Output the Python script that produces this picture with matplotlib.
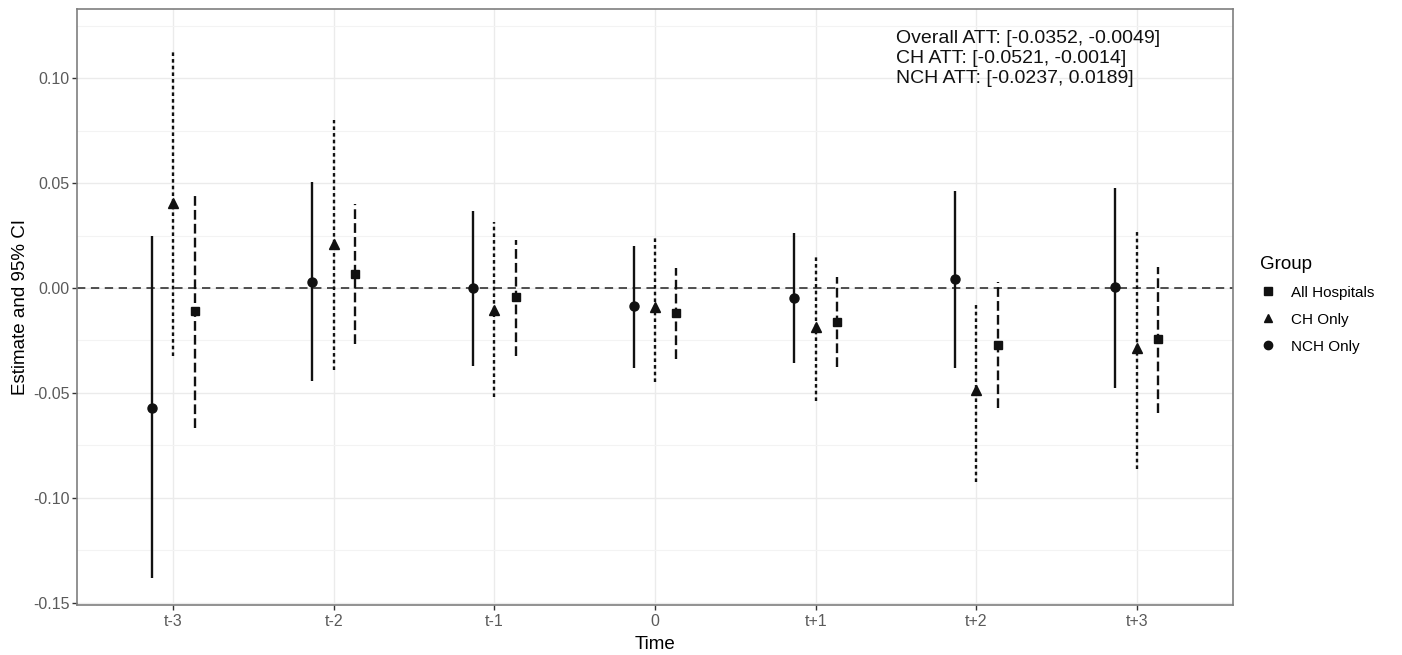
import matplotlib
matplotlib.use('Agg')
import matplotlib.pyplot as plt
from matplotlib.lines import Line2D
import numpy as np

plt.rcParams['font.family'] = ['Liberation Sans', 'DejaVu Sans']
plt.rcParams['lines.scale_dashes'] = False

# datos
periodos = ['t-3', 't-2', 't-1', '0', 't+1', 't+2', 't+3']

nch_est = [-0.057, 0.003, 0.000, -0.0086, -0.0049, 0.0041, 0.0003]
nch_lo = [-0.138, -0.0443, -0.037, -0.038, -0.0359, -0.0383, -0.0475]
nch_hi = [0.0249, 0.0506, 0.0367, 0.0201, 0.026, 0.0462, 0.0478]

ch_est = [0.0403, 0.0208, -0.0105, -0.0089, -0.0184, -0.0486, -0.0287]
ch_lo = [-0.0324, -0.039, -0.052, -0.045, -0.054, -0.0922, -0.0863]
ch_hi = [0.113, 0.080, 0.0316, 0.0244, 0.0149, -0.0065, 0.0273]

all_est = [-0.0108, 0.0067, -0.0041, -0.012, -0.016, -0.0271, -0.0244]
all_lo = [-0.0668, -0.0268, -0.0322, -0.0338, -0.0375, -0.0573, -0.0594]
all_hi = [0.0454, 0.040, 0.0229, 0.0097, 0.0051, 0.003, 0.0101]

texto_att = ['Overall ATT: [-0.0352, -0.0049]',
             'CH ATT: [-0.0521, -0.0014]',
             'NCH ATT: [-0.0237, 0.0189]']

fig = plt.figure(figsize=(14.02, 6.55), dpi=100)
ax = fig.add_axes([0.0549, 0.0763, 0.8246, 0.91])

x = np.arange(1, len(periodos) + 1)
off = 0.4 / 3

grupos = [
    (x - off, nch_est, nch_lo, nch_hi, 'o', '-', 6.5),
    (x, ch_est, ch_lo, ch_hi, '^', (0, (2.6, 2.2)), 6.5),
    (x + off, all_est, all_lo, all_hi, 's', (0, (7, 3)), 6),
]

ax.axhline(0, color='#222222', lw=1.1, linestyle=(0, (6, 4)), zorder=2)

for xs, est, lo, hi, mk, ls, ms in grupos:
    ax.vlines(xs, lo, hi, colors='#111111', linestyles=[ls], lw=1.7, zorder=3)
    ax.plot(xs, est, linestyle='none', marker=mk, color='#111111', markersize=ms, zorder=4)

ax.set_xlim(0.4, 7.6)
ax.set_ylim(-0.1510, 0.1329)
ax.set_xticks(x)
ax.set_xticklabels(periodos)
ax.set_yticks([0.10, 0.05, 0.00, -0.05, -0.10, -0.15])
ax.set_yticklabels(['0.10', '0.05', '0.00', '-0.05', '-0.10', '-0.15'])
ax.set_yticks([0.125, 0.075, 0.025, -0.025, -0.075, -0.125], minor=True)

ax.grid(True, which='major', color='#EBEBEB', lw=1.0, zorder=0)
ax.grid(True, which='minor', axis='y', color='#F3F3F3', lw=0.8, zorder=0)
ax.set_axisbelow(True)

for s in ax.spines.values():
    s.set_color('#7F7F7F')
    s.set_linewidth(1.2)

ax.tick_params(axis='both', which='major', colors='#333333', labelcolor='#5A5A5A',
               labelsize=11.5, length=3.5, width=1)
ax.tick_params(axis='y', which='minor', length=0)
ax.tick_params(axis='x', pad=3)
ax.tick_params(axis='y', pad=2)

ax.set_xlabel('Time', fontsize=13.5, labelpad=5)
ax.set_ylabel('Estimate and 95% CI', fontsize=13.5, labelpad=3)

ax.text(0.7085, 0.965, '\n'.join(texto_att), transform=ax.transAxes,
        fontsize=14, va='top', ha='left', linespacing=1.25, color='#111111')

handles = [
    Line2D([0], [0], marker='s', color='#111111', linestyle='none', markersize=6, label='All Hospitals'),
    Line2D([0], [0], marker='^', color='#111111', linestyle='none', markersize=6, label='CH Only'),
    Line2D([0], [0], marker='o', color='#111111', linestyle='none', markersize=6, label='NCH Only'),
]
leg = fig.legend(handles=handles, title='Group', loc='center left',
                 bbox_to_anchor=(0.889, 0.535), frameon=False, fontsize=11,
                 title_fontsize=13.5, handlelength=1.0, handletextpad=1.0,
                 labelspacing=0.85)
leg._legend_box.align = 'left'

fig.savefig('out.png', dpi=100)
